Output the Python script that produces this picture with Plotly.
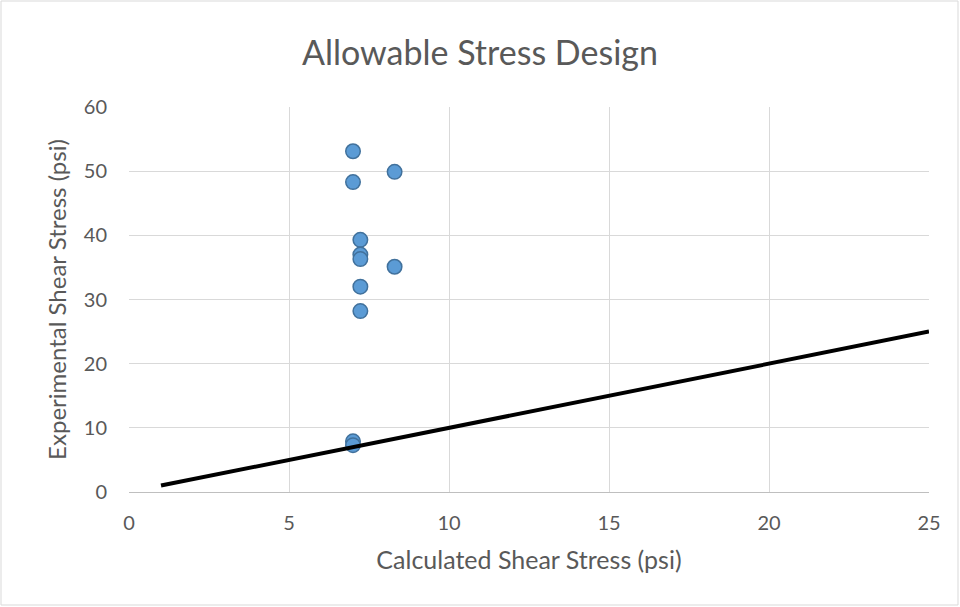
import plotly.graph_objects as go

# measured points
calc_stress = [7.0, 7.0, 8.3, 7.23, 7.23, 7.23, 8.3, 7.23, 7.23, 7.0, 7.0]
exp_stress = [53.1, 48.3, 49.9, 39.3, 37.0, 36.3, 35.1, 32.0, 28.2, 7.9, 7.3]

# 1:1 reference line
line_x = [1, 25]
line_y = [1, 25]

fig = go.Figure()
fig.add_trace(go.Scatter(
    x=calc_stress, y=exp_stress, mode="markers",
    marker=dict(size=14.5, color="#5B9BD5", line=dict(color="#41719C", width=1.5)),
    showlegend=False,
))
fig.add_trace(go.Scatter(
    x=line_x, y=line_y, mode="lines",
    line=dict(color="black", width=4),
    showlegend=False,
))

grey = "#595959"
fig.update_layout(
    width=960, height=607,
    margin=dict(l=129, r=31, t=107, b=115),
    paper_bgcolor="white", plot_bgcolor="white",
    font=dict(family="Lato, sans-serif", size=20, color=grey),
    title=dict(text="Allowable Stress Design", x=0.5, xanchor="center", y=0.913, yanchor="middle",
               font=dict(size=34, color=grey)),
    xaxis=dict(
        range=[0, 25], tickvals=[0, 5, 10, 15, 20, 25], showgrid=True, gridcolor="#d9d9d9", gridwidth=1,
        zeroline=False, showline=True, linecolor="#bfbfbf", linewidth=1, ticks="",
        ticklabelstandoff=13,
        title=dict(text="Calculated Shear Stress (psi)", standoff=18, font=dict(size=25, color=grey)),
    ),
    yaxis=dict(
        range=[0, 60], tickvals=[0, 10, 20, 30, 40, 50, 60], showgrid=True, gridcolor="#d9d9d9", gridwidth=1,
        zeroline=False, showline=False, ticks="",
        ticklabelstandoff=21,
        title=dict(text="Experimental Shear Stress (psi)", standoff=10, font=dict(size=24, color=grey)),
    ),
    shapes=[dict(
        type="rect", xref="paper", yref="paper",
        x0=(1 - 129) / 800, x1=(958 - 129) / 800,
        y0=(492 - 605) / 385, y1=(492 - 1) / 385,
        line=dict(color="#d9d9d9", width=1), fillcolor="rgba(0,0,0,0)", layer="below",
    )],
)

# drop the default page margin so the figure sits at the window's corner
fig.write_html("out.html", config={"displayModeBar": False},
               post_script="document.body.style.margin='0px';")
